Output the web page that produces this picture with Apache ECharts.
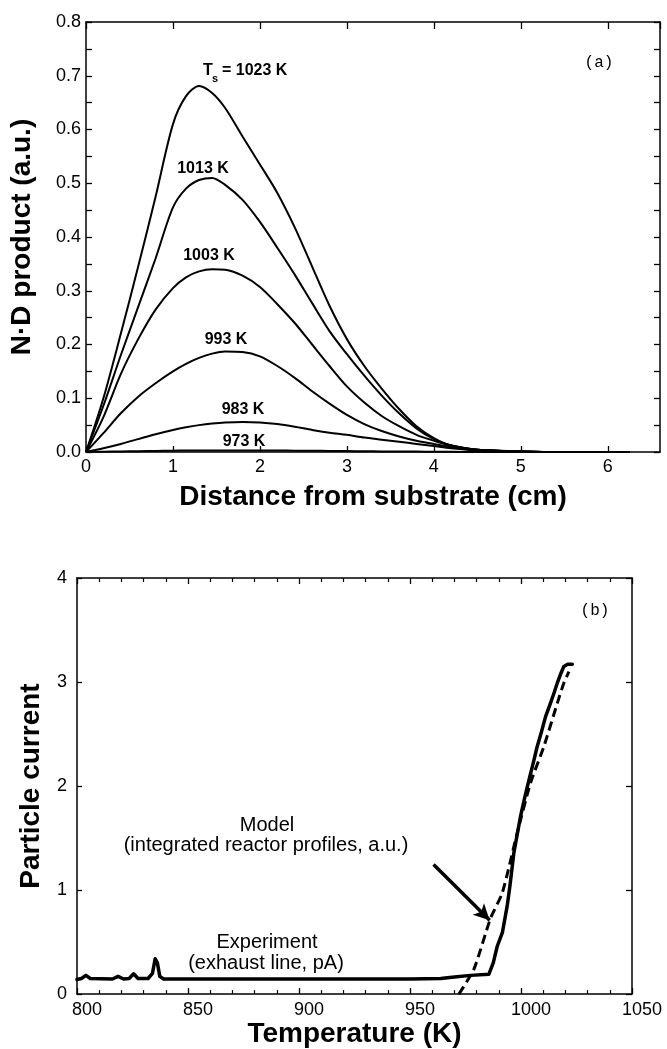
<!DOCTYPE html>
<html>
<head>
<meta charset="utf-8">
<script src="https://cdn.jsdelivr.net/npm/echarts@6/dist/echarts.min.js"></script>
<style>html,body{margin:0;padding:0;background:#fff}#c{width:667px;height:1049px}</style>
</head>
<body>
<div id="c"></div>
<script>
// ---- Panel (a): N·D product vs distance from substrate ----
var distX   = [0, 0.2, 0.4, 0.6, 0.8, 1.0, 1.15, 1.3, 1.45, 1.6, 1.8, 2.0, 2.2, 2.4, 2.6, 2.8, 3.0, 3.2, 3.4, 3.6, 3.8, 4.0, 4.2, 4.5, 5.0, 5.5, 6.25];
var nd1023  = [0, 0.10, 0.22, 0.345, 0.475, 0.61, 0.662, 0.681, 0.668, 0.64, 0.587, 0.535, 0.482, 0.418, 0.345, 0.272, 0.21, 0.16, 0.118, 0.08, 0.048, 0.026, 0.012, 0.004, 0.001, 0, 0];
var nd1013  = [0, 0.086, 0.18, 0.27, 0.36, 0.455, 0.49, 0.506, 0.51, 0.497, 0.469, 0.428, 0.38, 0.33, 0.277, 0.225, 0.182, 0.142, 0.105, 0.072, 0.044, 0.024, 0.012, 0.004, 0.001, 0, 0];
var nd1003  = [0, 0.065, 0.145, 0.21, 0.265, 0.305, 0.325, 0.336, 0.34, 0.339, 0.328, 0.307, 0.275, 0.24, 0.20, 0.16, 0.122, 0.092, 0.067, 0.048, 0.032, 0.021, 0.012, 0.004, 0.001, 0, 0];
var nd993   = [0, 0.035, 0.072, 0.103, 0.128, 0.15, 0.164, 0.175, 0.183, 0.187, 0.186, 0.178, 0.16, 0.138, 0.113, 0.09, 0.069, 0.052, 0.039, 0.029, 0.021, 0.015, 0.009, 0.004, 0.001, 0, 0];
var nd983   = [0, 0.007, 0.015, 0.024, 0.033, 0.041, 0.046, 0.05, 0.053, 0.055, 0.056, 0.055, 0.052, 0.047, 0.041, 0.036, 0.032, 0.027, 0.023, 0.019, 0.015, 0.011, 0.007, 0.003, 0.001, 0, 0];
var nd973   = [0, 0.0005, 0.001, 0.0015, 0.002, 0.0025, 0.0028, 0.003, 0.003, 0.003, 0.003, 0.003, 0.0028, 0.0025, 0.0022, 0.002, 0.0017, 0.0014, 0.0011, 0.0009, 0.0007, 0.0005, 0.0003, 0.0001, 0, 0, 0];
var curveLabels = ['1023 K', '1013 K', '1003 K', '993 K', '983 K', '973 K'];

// ---- Panel (b): particle current vs temperature ----
var expT  = [800, 802, 804, 806, 816, 818.5, 821, 823.5, 825.5, 827.5, 832, 834, 835.2, 836.2, 837.3, 839, 850, 900, 950, 963.8, 970, 977.3, 985.5, 987.5, 989.3, 991.6, 993.8, 995, 996.8, 999.8, 1001.8, 1003.6, 1005.5, 1007.3, 1009.2, 1011.1, 1013, 1014.8, 1016.5, 1017.9, 1019.3, 1021, 1023.1];
var expI  = [0.14, 0.15, 0.18, 0.15, 0.145, 0.17, 0.145, 0.15, 0.195, 0.15, 0.15, 0.2, 0.34, 0.3, 0.17, 0.145, 0.145, 0.145, 0.145, 0.15, 0.165, 0.18, 0.19, 0.3, 0.46, 0.59, 0.85, 1.04, 1.36, 1.71, 1.9, 2.06, 2.22, 2.38, 2.52, 2.67, 2.78, 2.89, 3.0, 3.08, 3.15, 3.17, 3.17];
var modelT = [972, 978.8, 986.3, 991.6, 998.3, 1004.3, 1010.3, 1016.4, 1019.3, 1021.6];
var modelI = [0, 0.24, 0.73, 0.975, 1.55, 2.03, 2.38, 2.80, 2.99, 3.10];
var arrowFrom = [960.6, 1.246];
var arrowTo   = [985.9, 0.71];

function zip(xs, ys) { return xs.map(function (x, i) { return [x, ys[i]]; }); }

var FONT = 'Liberation Sans, Arial, sans-serif';
var black = '#000';
var axisLine = { show: true, onZero: false, lineStyle: { color: black, width: 1.5 } };
function tick(len) { return { show: true, inside: true, length: len, lineStyle: { color: black, width: 1.3 } }; }

var chart = echarts.init(document.getElementById('c'), null, { renderer: 'canvas' });

var topSeries = [nd1023, nd1013, nd1003, nd993, nd983, nd973].map(function (ys, i) {
  return {
    name: curveLabels[i], type: 'line', xAxisIndex: 0, yAxisIndex: 0,
    data: zip(distX, ys), showSymbol: false, smooth: 0.3,
    lineStyle: { color: black, width: 2 }, silent: true
  };
});

var option = {
  animation: false,
  backgroundColor: '#fff',
  textStyle: { fontFamily: FONT, color: black },
  grid: [
    { left: 86, top: 22, width: 574, height: 430, show: false },
    { left: 77, top: 578, width: 555, height: 417, show: false }
  ],
  xAxis: [
    { gridIndex: 0, type: 'value', position: 'bottom', min: 0, max: 6.6, interval: 1,
      axisLine: axisLine, splitLine: { show: false }, axisTick: tick(6),
      axisLabel: { color: black, fontSize: 18, fontFamily: FONT, margin: 6, showMaxLabel: false },
      name: 'Distance from substrate (cm)', nameLocation: 'middle', nameGap: 31,
      nameTextStyle: { fontSize: 28, fontWeight: 'bold', color: black, fontFamily: FONT } },
    { gridIndex: 0, type: 'value', position: 'top', min: 0, max: 6.6, interval: 1,
      axisLine: axisLine, splitLine: { show: false }, axisTick: tick(7),
      axisLabel: { show: false } },
    { gridIndex: 1, type: 'value', position: 'bottom', min: 800, max: 1050, interval: 50,
      axisLine: axisLine, splitLine: { show: false }, axisTick: tick(6),
      minorTick: { show: true, splitNumber: 5, length: 4, lineStyle: { color: black, width: 1.2 } },
      minorSplitLine: { show: false },
      axisLabel: { color: black, fontSize: 18, fontFamily: FONT, margin: 7, padding: [0, 0, 0, 20],
        formatter: function (v) { return String(v); } },
      name: 'Temperature (K)', nameLocation: 'middle', nameGap: 25,
      nameTextStyle: { fontSize: 28, fontWeight: 'bold', color: black, fontFamily: FONT } },
    { gridIndex: 1, type: 'value', position: 'top', min: 800, max: 1050, interval: 50,
      axisLine: axisLine, splitLine: { show: false }, axisTick: tick(6),
      minorTick: { show: true, splitNumber: 5, length: 4, lineStyle: { color: black, width: 1.2 } },
      axisLabel: { show: false } }
  ],
  yAxis: [
    { gridIndex: 0, type: 'value', position: 'left', min: 0, max: 0.8, interval: 0.1,
      axisLine: axisLine, splitLine: { show: false }, axisTick: tick(6),
      minorTick: { show: true, splitNumber: 2, length: 6, lineStyle: { color: black, width: 1.3 } },
      minorSplitLine: { show: false },
      axisLabel: { color: black, fontSize: 18, fontFamily: FONT, margin: 5,
        formatter: function (v) { return v.toFixed(1); } },
      name: 'N\u00b7D product (a.u.)', nameLocation: 'middle', nameGap: 50, nameRotate: 90,
      nameTextStyle: { fontSize: 28, fontWeight: 'bold', color: black, fontFamily: FONT } },
    { gridIndex: 0, type: 'value', position: 'right', min: 0, max: 0.8, interval: 0.05,
      axisLine: axisLine, splitLine: { show: false }, axisTick: tick(6),
      axisLabel: { show: false } },
    { gridIndex: 1, type: 'value', position: 'left', min: 0, max: 4, interval: 1,
      axisLine: axisLine, splitLine: { show: false }, axisTick: tick(5),
      axisLabel: { color: black, fontSize: 18, fontFamily: FONT, margin: 10 },
      name: 'Particle current', nameLocation: 'middle', nameGap: 32, nameRotate: 90,
      nameTextStyle: { fontSize: 28, fontWeight: 'bold', color: black, fontFamily: FONT } },
    { gridIndex: 1, type: 'value', position: 'right', min: 0, max: 4, interval: 1,
      axisLine: axisLine, splitLine: { show: false }, axisTick: tick(6),
      axisLabel: { show: false } }
  ],
  series: topSeries.concat([
    { name: 'Experiment', type: 'line', xAxisIndex: 2, yAxisIndex: 2,
      data: zip(expT, expI), showSymbol: false, smooth: false,
      lineStyle: { color: black, width: 3.5, join: 'round', cap: 'round' }, silent: true },
    { name: 'Model', type: 'line', xAxisIndex: 2, yAxisIndex: 2,
      data: zip(modelT, modelI), showSymbol: false, smooth: 0.2,
      lineStyle: { color: black, width: 3, type: [9, 5] }, silent: true,
      markLine: {
        silent: true, animation: false,
        symbol: ['none', 'arrow'], symbolSize: [12, 16],
        label: { show: false },
        lineStyle: { color: black, width: 3.5, type: 'solid' },
        data: [[{ coord: arrowFrom }, { coord: arrowTo }]]
      } }
  ]),
  graphic: [
    { type: 'text', left: 203, top: 63, style: { text: 'T', font: 'bold 16px ' + FONT, fill: black } },
    { type: 'text', left: 212, top: 73, style: { text: 's', font: 'bold 11px ' + FONT, fill: black } },
    { type: 'text', left: 222, top: 63, style: { text: '= 1023 K', font: 'bold 16px ' + FONT, fill: black } },
    { type: 'text', x: 203, y: 169, style: { text: curveLabels[1], font: 'bold 16px ' + FONT, fill: black, align: 'center', verticalAlign: 'middle' } },
    { type: 'text', x: 209, y: 256, style: { text: curveLabels[2], font: 'bold 16px ' + FONT, fill: black, align: 'center', verticalAlign: 'middle' } },
    { type: 'text', x: 226, y: 340, style: { text: curveLabels[3], font: 'bold 16px ' + FONT, fill: black, align: 'center', verticalAlign: 'middle' } },
    { type: 'text', x: 243, y: 410, style: { text: curveLabels[4], font: 'bold 16px ' + FONT, fill: black, align: 'center', verticalAlign: 'middle' } },
    { type: 'text', x: 244, y: 442, style: { text: curveLabels[5], font: 'bold 16px ' + FONT, fill: black, align: 'center', verticalAlign: 'middle' } },
    { type: 'text', x: 599, y: 63, style: { text: '(a)', font: '16px Liberation Mono, monospace', fill: black, align: 'center', verticalAlign: 'middle' } },
    { type: 'text', x: 595, y: 611, style: { text: '(b)', font: '16px Liberation Mono, monospace', fill: black, align: 'center', verticalAlign: 'middle' } },
    { type: 'text', x: 267, y: 825, style: { text: 'Model', font: '20px ' + FONT, fill: black, align: 'center', verticalAlign: 'middle' } },
    { type: 'text', x: 266, y: 845, style: { text: '(integrated reactor profiles, a.u.)', font: '20px ' + FONT, fill: black, align: 'center', verticalAlign: 'middle' } },
    { type: 'text', x: 267, y: 942, style: { text: 'Experiment', font: '20px ' + FONT, fill: black, align: 'center', verticalAlign: 'middle' } },
    { type: 'text', x: 266, y: 963, style: { text: '(exhaust line, pA)', font: '20px ' + FONT, fill: black, align: 'center', verticalAlign: 'middle' } }
  ]
};
chart.setOption(option);
</script>
</body>
</html>
